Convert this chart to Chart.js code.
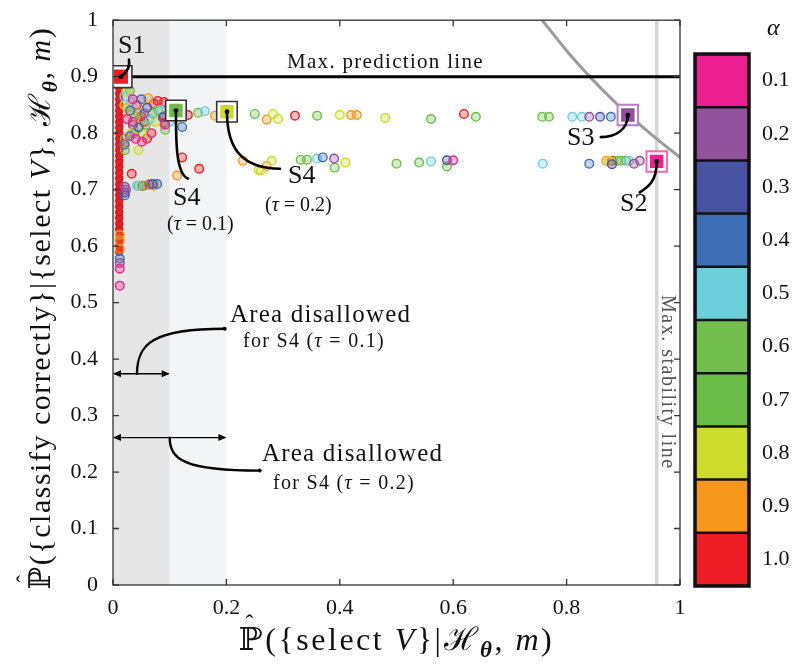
<!DOCTYPE html>
<html>
<head>
<meta charset="utf-8">
<script src="https://cdn.jsdelivr.net/npm/chart.js@4/dist/chart.umd.min.js"></script>
<style>
body{margin:0;background:#fff;}
#wrap{position:relative;width:800px;height:670px;}
#main{position:absolute;left:0;top:0;}
#bar{position:absolute;left:690px;top:0;}
#alpha{position:absolute;left:767px;top:14px;font:italic 24px 'Liberation Serif','DejaVu Serif',serif;color:#111;}
</style>
</head>
<body>
<div id="wrap">
<canvas id="main" width="800" height="670"></canvas>
<canvas id="bar" width="110" height="670"></canvas>
<div id="alpha">α</div>
</div>
<script>
var SERIF = "'Liberation Serif','DejaVu Serif',serif";

// colour scale (alpha values)
var alphaLabels = ['0.1','0.2','0.3','0.4','0.5','0.6','0.7','0.8','0.9','1.0'];
var alphaColors = ['#ed1e8f','#92519c','#4752a3','#3d6db5','#6dcfdc','#72bf4e','#6abd46','#cddc2a','#f7981d','#ee1c25'];

// points per alpha [x, y]
var a01 = [[0.012,0.56],[0.012,0.53],[0.04,0.79],[0.051,0.785],[0.092,0.815],[0.60,0.752],[0.025,0.825],[0.068,0.8],[0.035,0.86]];
var a02 = [[0.012,0.57],[0.021,0.705],[0.023,0.7],[0.39,0.755],[0.84,0.829],[0.919,0.746],[0.929,0.751],[0.035,0.82],[0.055,0.835],[0.02,0.78],[0.03,0.795]];
var a03 = [[0.589,0.752],[0.859,0.829],[0.88,0.745],[0.021,0.695],[0.07,0.71],[0.045,0.81],[0.06,0.845],[0.088,0.828]];
var a04 = [[0.012,0.578],[0.37,0.757],[0.878,0.829],[0.84,0.746],[0.122,0.811],[0.078,0.71],[0.021,0.69],[0.03,0.84],[0.05,0.86]];
var a05 = [[0.162,0.839],[0.36,0.755],[0.561,0.75],[0.758,0.746],[0.81,0.829],[0.827,0.829],[0.91,0.751],[0.042,0.707],[0.033,0.855],[0.065,0.825],[0.1,0.82],[0.085,0.84],[0.02,0.865]];
var a06 = [[0.15,0.836],[0.25,0.834],[0.331,0.753],[0.391,0.739],[0.50,0.746],[0.757,0.829],[0.889,0.751],[0.092,0.806],[0.021,0.79],[0.021,0.78],[0.045,0.707],[0.08,0.84],[0.11,0.845],[0.045,0.835]];
var a07 = [[0.36,0.831],[0.342,0.753],[0.54,0.748],[0.561,0.825],[0.589,0.741],[0.64,0.829],[0.769,0.829],[0.896,0.751],[0.905,0.751],[0.021,0.77],[0.055,0.707],[0.07,0.835],[0.038,0.8],[0.058,0.815],[0.03,0.875]];
var a08 = [[0.023,0.873],[0.282,0.834],[0.291,0.825],[0.40,0.832],[0.48,0.827],[0.257,0.735],[0.261,0.734],[0.28,0.751],[0.41,0.748],[0.875,0.751],[0.033,0.8],[0.051,0.8],[0.065,0.8],[0.1,0.84],[0.02,0.85],[0.045,0.77],[0.075,0.82],[0.028,0.835],[0.112,0.825]];
var a09 = [[0.062,0.862],[0.18,0.831],[0.271,0.824],[0.42,0.832],[0.43,0.832],[0.229,0.751],[0.271,0.742],[0.113,0.725],[0.87,0.751],[0.072,0.707],[0.012,0.595],[0.012,0.61],[0.012,0.62],[0.025,0.845],[0.11,0.85],[0.04,0.83]];
var a10 = [[0.042,0.85],[0.072,0.852],[0.079,0.857],[0.09,0.855],[0.132,0.832],[0.321,0.831],[0.619,0.834],[0.122,0.757],[0.152,0.737],[0.033,0.728],[0.052,0.707],[0.064,0.709],[0.09,0.818],[0.09,0.83],[0.88,0.751],[0.055,0.82],[0.035,0.815],[0.06,0.79],[0.05,0.83]];
// dense alpha=1.0 column near x=0
var colX = 0.011;
var colY = [0.59,0.60,0.61,0.62,0.63,0.64,0.65,0.66,0.67,0.68,0.69,0.70,0.71,0.72,0.73,0.74,0.75,0.76,0.77,0.78,0.79,0.80,0.81,0.82,0.83,0.84,0.85,0.86,0.87,0.88];

// highlighted strategies
var sNames = ['S1','S4','S4','S3','S2'];
var sX = [0.014,0.111,0.201,0.908,0.959];
var sY = [0.9,0.84,0.838,0.832,0.75];
var sAlpha = [9,6,7,1,0];
var sFrame = ['#333333','#333333','#333333','#b77ec6','#f16bb0'];

// reference lines
var predY = 0.9;
var stabX = 0.959;
var curveX = [0.757,0.78,0.80,0.84,0.88,0.92,0.96,1.0];
var curveY = [1.0,0.971,0.946,0.901,0.86,0.823,0.789,0.757];
var zone1 = 0.1, zone2 = 0.2;
var arrowY1 = 0.374, arrowY2 = 0.261;

function tint(hex, a) {
  var n = parseInt(hex.slice(1), 16);
  return 'rgba(' + (n >> 16) + ',' + ((n >> 8) & 255) + ',' + (n & 255) + ',' + a + ')';
}

var alphaSets = [a01,a02,a03,a04,a05,a06,a07,a08,a09,a10];
var datasets = [];

datasets.push({data: [{x:0,y:predY},{x:1,y:predY}], showLine:true, borderColor:'#000', borderWidth:3, pointRadius:0, order:20});
datasets.push({data: [{x:stabX,y:0},{x:stabX,y:1}], showLine:true, borderColor:'#d6d6d6', borderWidth:3.5, pointRadius:0, order:30});
datasets.push({data: curveX.map(function(v,i){return {x:v,y:curveY[i]};}), showLine:true, tension:0.3, borderColor:'#9b9b9b', borderWidth:3, pointRadius:0, order:25});

datasets.push({data: colY.map(function(v){return {x:colX,y:v};}), backgroundColor:'#ee1c25', borderColor:'#c9141c', borderWidth:1, pointRadius:3.8, order:12});

alphaSets.forEach(function(pts, i) {
  datasets.push({
    data: pts.map(function(p){return {x:p[0],y:p[1]};}),
    backgroundColor: tint(alphaColors[i], 0.3),
    borderColor: alphaColors[i],
    borderWidth: 1.4,
    pointRadius: 4.3,
    order: 10
  });
});

// strategy boxes: outer frame then inner square
datasets.push({
  data: sX.map(function(v,i){return {x:v,y:sY[i]};}),
  pointStyle:'rect', pointRadius:[15.5,14.5,14.5,14.5,14.5],
  pointBackgroundColor:'#fff', pointBorderColor:sFrame, pointBorderWidth:[1.6,1.6,1.6,2,2],
  order:3
});
datasets.push({
  data: sX.map(function(v,i){return {x:v,y:sY[i]};}),
  pointStyle:'rect', pointRadius:[10,9.5,9.5,9.5,9.5],
  pointBackgroundColor: sAlpha.map(function(k){return alphaColors[k];}), pointBorderWidth:0,
  order:2
});

function fontOf(s, size) {
  return (s.it ? 'italic ' : '') + (s.b ? 'bold ' : '') + (s.sub ? size*0.72 : size) + 'px ' + SERIF;
}
function drawRich(ctx, segs, size, x0, y0, rot, center, color, ls) {
  ctx.save();
  ctx.translate(x0, y0);
  if (rot) ctx.rotate(rot);
  ctx.letterSpacing = (ls || 0) + 'px';
  var w = 0;
  segs.forEach(function(s){ ctx.font = fontOf(s, size); s.w = ctx.measureText(s.t).width; w += s.w; });
  var x = center ? -w/2 : 0;
  ctx.fillStyle = color || '#111';
  ctx.textBaseline = 'alphabetic';
  segs.forEach(function(s){
    ctx.font = fontOf(s, size);
    ctx.textAlign = 'left';
    ctx.fillText(s.t, x, s.sub ? size*0.22 : 0);
    if (s.hat) {
      ctx.font = (size*0.75) + 'px ' + SERIF;
      ctx.textAlign = 'center';
      ctx.fillText('ˆ', x + s.w/2 - (ls || 0)/2, -size*0.58);
    }
    x += s.w;
  });
  ctx.restore();
}

var frame = {
  id:'frame',
  beforeDatasetsDraw: function(chart) {
    var ctx = chart.ctx, a = chart.chartArea, xs = chart.scales.x;
    ctx.save();
    ctx.fillStyle = '#e6e6e6';
    ctx.fillRect(xs.getPixelForValue(0), a.top, xs.getPixelForValue(zone1) - xs.getPixelForValue(0), a.bottom - a.top);
    ctx.fillStyle = '#f3f4f6';
    ctx.fillRect(xs.getPixelForValue(zone1), a.top, xs.getPixelForValue(zone2) - xs.getPixelForValue(zone1), a.bottom - a.top);
    ctx.restore();
  },
  afterDatasetsDraw: function(chart) {
    var ctx = chart.ctx, a = chart.chartArea, xs = chart.scales.x, ys = chart.scales.y;
    ctx.save();
    ctx.strokeStyle = '#333'; ctx.lineWidth = 1.3;
    ctx.strokeRect(a.left, a.top, a.right - a.left, a.bottom - a.top);
    ctx.beginPath();
    xs.ticks.forEach(function(t){
      var p = xs.getPixelForValue(t.value);
      ctx.moveTo(p, a.bottom); ctx.lineTo(p, a.bottom - 6);
      ctx.moveTo(p, a.top); ctx.lineTo(p, a.top + 6);
    });
    ys.ticks.forEach(function(t){
      var p = ys.getPixelForValue(t.value);
      ctx.moveTo(a.left, p); ctx.lineTo(a.left + 6, p);
      ctx.moveTo(a.right, p); ctx.lineTo(a.right - 6, p);
    });
    ctx.stroke();

    // connectors from strategy markers
    var conn = [
      [[8,-6],[9,-12],[8,-17]],
      [[0,31],[0,63],[12,68]],
      [[0,40],[18,57],[53,57]],
      [[0,15],[-13,22],[-27,22]],
      [[0,20],[-9,26],[-17,31]]
    ];
    ctx.strokeStyle = '#000'; ctx.fillStyle = '#000'; ctx.lineWidth = 2.6; ctx.lineCap = 'round';
    sX.forEach(function(v, i){
      var px = xs.getPixelForValue(v), py = ys.getPixelForValue(sY[i]), c = conn[i];
      ctx.beginPath();
      ctx.moveTo(px, py);
      ctx.bezierCurveTo(px + c[0][0], py + c[0][1], px + c[1][0], py + c[1][1], px + c[2][0], py + c[2][1]);
      ctx.stroke();
      ctx.beginPath(); ctx.arc(px, py, 2.4, 0, Math.PI*2); ctx.fill();
    });

    // disallowed-area arrows
    function dblArrow(x1, x2, y) {
      ctx.lineWidth = 1.4;
      ctx.beginPath(); ctx.moveTo(x1 + 2, y); ctx.lineTo(x2 - 2, y); ctx.stroke();
      ctx.beginPath();
      ctx.moveTo(x1, y); ctx.lineTo(x1 + 8, y - 3.5); ctx.lineTo(x1 + 8, y + 3.5); ctx.closePath();
      ctx.moveTo(x2, y); ctx.lineTo(x2 - 8, y - 3.5); ctx.lineTo(x2 - 8, y + 3.5); ctx.closePath();
      ctx.fill();
    }
    var y1 = ys.getPixelForValue(arrowY1), y2 = ys.getPixelForValue(arrowY2);
    var x0 = xs.getPixelForValue(0), xz1 = xs.getPixelForValue(zone1), xz2 = xs.getPixelForValue(zone2);
    dblArrow(x0, xz1, y1);
    dblArrow(x0, xz2, y2);
    ctx.lineWidth = 2.4;
    ctx.beginPath();
    ctx.moveTo(x0 + 24, y1);
    ctx.bezierCurveTo(x0 + 24, y1 - 30, x0 + 40, y1 - 45, xz1 + 55, y1 - 45);
    ctx.stroke();
    ctx.beginPath(); ctx.arc(xz1 + 55, y1 - 45, 2, 0, Math.PI*2); ctx.fill();
    ctx.beginPath();
    ctx.moveTo(xz1, y2);
    ctx.bezierCurveTo(xz1, y2 + 22, xz1 + 15, y2 + 33, xz1 + 90, y2 + 33);
    ctx.stroke();
    ctx.beginPath(); ctx.arc(xz1 + 90, y2 + 33, 2, 0, Math.PI*2); ctx.fill();
    ctx.restore();

    // labels
    drawRich(ctx, [{t:'S1'}], 26, 118, 53);
    drawRich(ctx, [{t:'S4'}], 26, 173, 205);
    drawRich(ctx, [{t:'('},{t:'τ',it:1},{t:' = 0.1)'}], 20, 167, 230);
    drawRich(ctx, [{t:'S4'}], 26, 288, 183);
    drawRich(ctx, [{t:'('},{t:'τ',it:1},{t:' = 0.2)'}], 20, 265, 211);
    drawRich(ctx, [{t:'S3'}], 26, 567, 145);
    drawRich(ctx, [{t:'S2'}], 26, 620, 211);
    drawRich(ctx, [{t:'Max. prediction line'}], 21, 287, 68, 0, false, '#111', 1.3);
    drawRich(ctx, [{t:'Area disallowed'}], 25, 230, 322, 0, false, '#111', 1.2);
    drawRich(ctx, [{t:'for S4 ('},{t:'τ',it:1},{t:' = 0.1)'}], 20, 243, 347, 0, false, '#111', 1.3);
    drawRich(ctx, [{t:'Area disallowed'}], 25, 262, 461, 0, false, '#111', 1.2);
    drawRich(ctx, [{t:'for S4 ('},{t:'τ',it:1},{t:' = 0.2)'}], 20, 273, 489, 0, false, '#111', 1.3);
    drawRich(ctx, [{t:'Max. stability line'}], 20, 662, 295, Math.PI/2, false, '#555', 1.5);

    // axis titles
    drawRich(ctx, [{t:'ℙ',hat:1},{t:'({select '},{t:'V',it:1},{t:'}|ℋ'},{t:'θ',sub:1,b:1,it:1},{t:', '},{t:'m',it:1},{t:')'}], 32, (a.left + a.right)/2, 650, 0, true, '#111', 2.5);
    drawRich(ctx, [{t:'ℙ',hat:1},{t:'({classify correctly}|{select '},{t:'V',it:1},{t:'}, ℋ'},{t:'θ',sub:1,b:1,it:1},{t:', '},{t:'m',it:1},{t:')'}], 30, 50, 308, -Math.PI/2, true, '#111', 1.5);
  }
};

function tickLabel(v) {
  if (Math.abs(v) < 1e-9) return '0';
  if (Math.abs(v - 1) < 1e-9) return '1';
  return v.toFixed(1);
}

new Chart(document.getElementById('main'), {
  type: 'scatter',
  data: {datasets: datasets},
  options: {
    responsive: false,
    animation: false,
    events: [],
    layout: {padding: {top:18, right:120, left:0, bottom:0}},
    plugins: {legend:{display:false}, tooltip:{enabled:false}},
    scales: {
      x: {
        type:'linear', min:0, max:1,
        grid:{display:false}, border:{display:false},
        ticks:{stepSize:0.2, padding:2, color:'#111', font:{family:SERIF, size:22}, callback:tickLabel, maxRotation:0},
        afterFit: function(s){ s.height = 85; }
      },
      y: {
        type:'linear', min:0, max:1,
        grid:{display:false}, border:{display:false},
        ticks:{stepSize:0.1, padding:7, color:'#111', font:{family:SERIF, size:22}, callback:tickLabel},
        afterFit: function(s){ s.width = 113; }
      }
    }
  },
  plugins: [frame]
});

// colour bar
var barFrame = {
  id:'barFrame',
  afterDatasetsDraw: function(chart) {
    var ctx = chart.ctx, a = chart.chartArea;
    ctx.save();
    ctx.strokeStyle = '#111'; ctx.lineWidth = 3.5;
    ctx.strokeRect(a.left, a.top, a.right - a.left, a.bottom - a.top);
    ctx.restore();
  }
};

new Chart(document.getElementById('bar'), {
  type: 'bar',
  data: {
    labels: [''],
    datasets: alphaLabels.map(function(l, i){
      return {label:l, data:[1], backgroundColor:alphaColors[i], borderColor:'#111', borderWidth:1.6, borderSkipped:false, barPercentage:1, categoryPercentage:1};
    })
  },
  options: {
    responsive: false,
    animation: false,
    events: [],
    layout: {padding: {left:5, top:54, bottom:84, right:0}},
    plugins: {legend:{display:false}, tooltip:{enabled:false}},
    scales: {
      x: {stacked:true, display:false},
      y: {
        stacked:true, position:'right', min:0, max:10, reverse:true,
        grid:{display:false}, border:{display:false},
        afterBuildTicks: function(s){ s.ticks = alphaLabels.map(function(l, i){ return {value:i + 0.5}; }); },
        ticks:{padding:5, color:'#111', font:{family:SERIF, size:22}, callback:function(v){ return alphaLabels[Math.floor(v)]; }},
        afterFit: function(s){ s.width = 51; }
      }
    }
  },
  plugins: [barFrame]
});
</script>
</body>
</html>
